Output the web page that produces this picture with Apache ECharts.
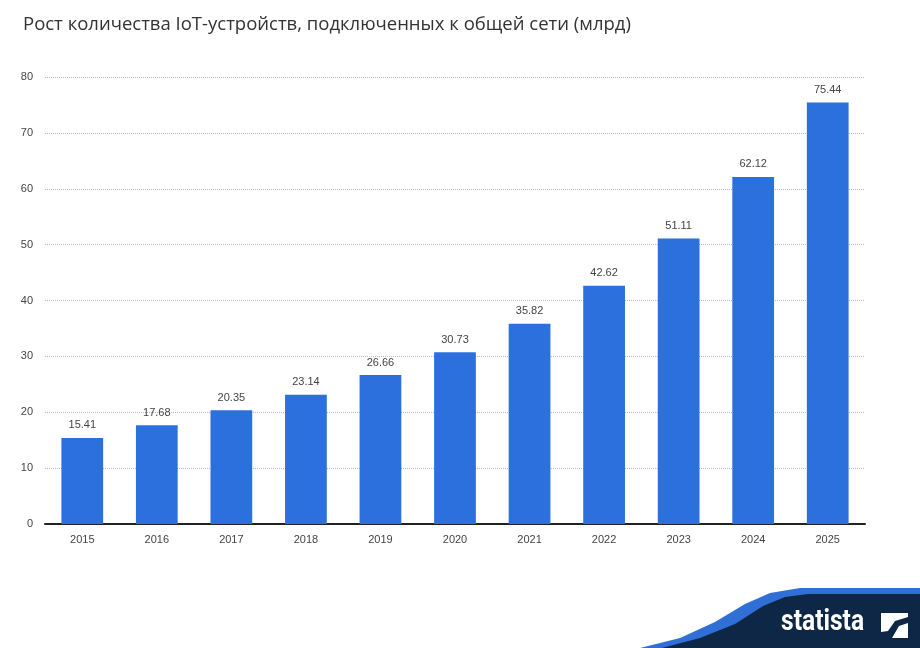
<!DOCTYPE html>
<html>
<head>
<meta charset="utf-8">
<script src="https://cdn.jsdelivr.net/npm/echarts@6/dist/echarts.min.js"></script>
<style>html,body{margin:0;padding:0;background:#fff}#chart{width:920px;height:648px}</style>
</head>
<body>
<div id="chart"></div>
<script>
var years = ['2015', '2016', '2017', '2018', '2019', '2020', '2021', '2022', '2023', '2024', '2025'];
var devices = [15.41, 17.68, 20.35, 23.14, 26.66, 30.73, 35.82, 42.62, 51.11, 62.12, 75.44];

var myChart = echarts.init(document.getElementById('chart'));
var option = {
    title: {
        text: 'Рост количества IoT-устройств, подключенных к общей сети (млрд)',
        left: 18, top: 10,
        textStyle: { fontSize: 18.5, fontWeight: 'normal', color: '#333', fontFamily: 'Open Sans' }
    },
    grid: { left: 45, right: 55, top: 77, bottom: 124 },
    xAxis: {
        type: 'category',
        data: years,
        axisLine: { lineStyle: { color: '#222', width: 2 } },
        axisTick: { show: false },
        axisLabel: { color: '#444', fontSize: 11, margin: 10 }
    },
    yAxis: {
        type: 'value',
        min: 0, max: 80, interval: 10,
        axisLabel: { color: '#444', fontSize: 11, margin: 12 },
        splitLine: { lineStyle: { color: '#bbb', type: 'dotted' } }
    },
    series: [{
        type: 'bar',
        data: devices,
        barWidth: '56%',
        itemStyle: { color: '#2b70dc' },
        label: { show: true, position: 'top', color: '#444', fontSize: 11, distance: 7 }
    }],
    graphic: [
        // statista footer swoosh
        { type: 'polygon', shape: { points: [[640, 648], [680, 638], [715, 622], [745, 604], [770, 593], [800, 588], [920, 588], [920, 648]] }, style: { fill: '#2f6fd6' } },
        { type: 'polygon', shape: { points: [[662, 648], [700, 638], [735, 624], [763, 606], [785, 597], [808, 594], [920, 594], [920, 648]] }, style: { fill: '#0f2746' } },
        { type: 'text', x: 781, y: 607, scaleX: 0.82, style: { text: 'statista', fill: '#fff', fontSize: 30, fontWeight: 'bold', fontFamily: 'Roboto' } },
        { type: 'rect', shape: { x: 881, y: 613, width: 27, height: 25 }, style: { fill: '#fff' } },
        { type: 'polygon', shape: { points: [[881, 632], [888, 631], [895, 621], [908, 617], [908, 623], [899, 626], [892, 638], [881, 638]] }, style: { fill: '#0f2746' } }
    ]
};
myChart.setOption(option);
</script>
</body>
</html>
